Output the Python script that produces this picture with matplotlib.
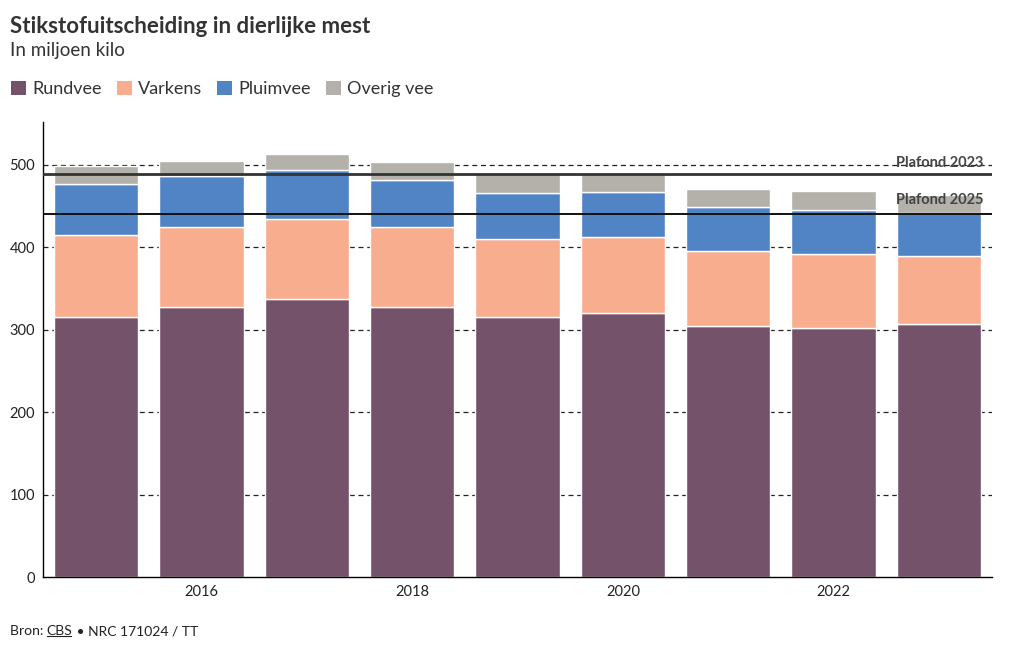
import matplotlib
matplotlib.use("Agg")
import matplotlib.pyplot as plt
from matplotlib.patches import Patch
from matplotlib.lines import Line2D

plt.rcParams["font.family"] = ["Lato", "DejaVu Sans"]

years = [2015, 2016, 2017, 2018, 2019, 2020, 2021, 2022, 2023]
rundvee = [315, 327.5, 337, 327, 315, 320, 305, 302, 307]
varkens = [100, 97.5, 97.7, 97.5, 94.6, 92, 90, 89.4, 82]
pluimvee = [62, 62, 59, 57, 56.4, 55, 54, 53.6, 52.5]
overig = [21.5, 18, 19, 22.5, 24, 23, 22, 22.8, 22.5]

series = ["Rundvee", "Varkens", "Pluimvee", "Overig vee"]
colors = ["#74526a", "#f9ad8f", "#5084c5", "#b4b1ab"]

plafond_2023 = 489.5
plafond_2025 = 440.5

fig = plt.figure(figsize=(10.2, 6.5), dpi=100)
ax = fig.add_axes([0.0425, 0.1123, 0.9297, 0.70])

bottom = [0] * len(years)
for vals, col, name in zip([rundvee, varkens, pluimvee, overig], colors, series):
    ax.bar(years, vals, bottom=bottom, width=0.8, color=col, edgecolor="white",
           linewidth=1, label=name, zorder=2)
    bottom = [b + v for b, v in zip(bottom, vals)]

ax.set_xlim(2014.5, 2023.5)
ax.set_ylim(0, 552)
ax.set_yticks([0, 100, 200, 300, 400, 500])
ax.set_xticks([2016, 2018, 2020, 2022])
ax.tick_params(length=0, labelsize=10.5, pad=6, colors="#222222")
for y in [100, 200, 300, 400, 500]:
    ax.axhline(y, color="#222222", ls=(0, (4, 3)), lw=0.9, zorder=1)
for s in ["top", "right"]:
    ax.spines[s].set_visible(False)
ax.spines["left"].set_linewidth(1)
ax.spines["bottom"].set_linewidth(1)

ax.axhline(plafond_2023, color="#333333", lw=2, zorder=4)
ax.axhline(plafond_2025, color="#111111", lw=1.4, zorder=4)
ax.text(2023.42, plafond_2023 + 4, "Plafond 2023", ha="right", va="bottom",
        fontsize=10.5, fontweight="bold", color="#444444", zorder=5)
ax.text(2023.42, plafond_2025 + 8, "Plafond 2025", ha="right", va="bottom",
        fontsize=10.5, fontweight="bold", color="#444444", zorder=5)

fig.text(0.0098, 0.959, "Stikstofuitscheiding in dierlijke mest", fontsize=16,
         fontweight="bold", color="#333333", ha="left", va="center")
fig.text(0.0098, 0.923, "In miljoen kilo", fontsize=13.5, color="#333333",
         ha="left", va="center")

handles = [Patch(facecolor=c, edgecolor="none", label=n) for c, n in zip(colors, series)]
fig.legend(handles=handles, loc="center left", bbox_to_anchor=(0.0108, 0.863),
           ncol=4, frameon=False, fontsize=13, handlelength=0.85,
           handleheight=0.85, handletextpad=0.35, columnspacing=0.8,
           borderpad=0, borderaxespad=0, labelcolor="#333333")

t1 = fig.text(0.0098, 0.029, "Bron: ", fontsize=10, color="#222222",
              ha="left", va="center")
fig.canvas.draw()
r = fig.canvas.get_renderer()
bb = t1.get_window_extent(r)
x2 = bb.x1 / fig.bbox.width
t2 = fig.text(x2, 0.029, "CBS", fontsize=10, color="#222222", ha="left", va="center")
bb2 = t2.get_window_extent(r)
x3 = bb2.x1 / fig.bbox.width
fig.text(x3, 0.029, " \u2022 NRC 171024 / TT", fontsize=10, color="#222222",
         ha="left", va="center")
yline = (bb2.y0 + 1) / fig.bbox.height
fig.add_artist(Line2D([bb2.x0 / fig.bbox.width, (bb2.x1 - 2) / fig.bbox.width],
                      [yline, yline], color="#222222", lw=0.8,
                      transform=fig.transFigure))

fig.savefig("out.png", dpi=100)
